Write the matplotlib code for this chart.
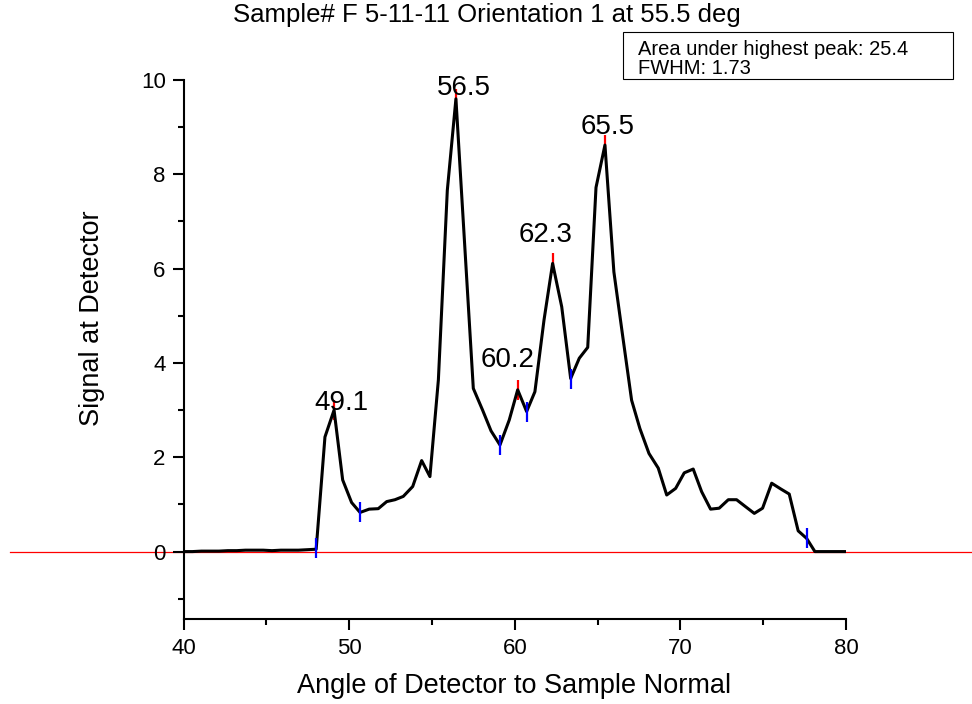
import matplotlib
matplotlib.use("Agg")
import matplotlib.pyplot as plt
from matplotlib.patches import Rectangle

plt.rcParams['font.family'] = ['Liberation Sans', 'DejaVu Sans']

# measured detector signal
angle = [40.0, 40.53, 41.07, 41.6, 42.13, 42.67, 43.2, 43.73, 44.27, 44.8,
         45.33, 45.87, 46.4, 46.93, 47.47, 48.0, 48.53, 49.08, 49.6, 50.14,
         50.65, 51.2, 51.75, 52.26, 52.76, 53.26, 53.83, 54.37, 54.87, 55.38,
         55.92, 56.44, 56.97, 57.49, 58.05, 58.56, 59.1, 59.66, 60.17, 60.71,
         61.21, 61.76, 62.28, 62.83, 63.37, 63.89, 64.4, 64.9, 65.44, 65.98,
         66.5, 67.05, 67.55, 68.1, 68.66, 69.17, 69.71, 70.23, 70.77, 71.28,
         71.82, 72.34, 72.89, 73.39, 73.94, 74.46, 74.96, 75.51, 76.05, 76.57,
         77.11, 77.62, 78.12, 78.65, 79.18, 79.7, 80.3]
signal = [0.0, 0.0, 0.01, 0.01, 0.01, 0.02, 0.02, 0.03, 0.03, 0.03,
          0.02, 0.03, 0.03, 0.03, 0.04, 0.05, 2.43, 3.0, 1.52, 1.04,
          0.83, 0.90, 0.91, 1.06, 1.10, 1.17, 1.38, 1.93, 1.59, 3.64,
          7.66, 9.6, 6.5, 3.46, 3.0, 2.56, 2.26, 2.79, 3.43, 2.97,
          3.39, 4.91, 6.11, 5.19, 3.67, 4.10, 4.33, 7.72, 8.62, 5.93,
          4.6, 3.21, 2.61, 2.08, 1.77, 1.20, 1.34, 1.67, 1.75, 1.27,
          0.90, 0.92, 1.10, 1.10, 0.95, 0.81, 0.92, 1.45, 1.33, 1.22,
          0.44, 0.28, 0.0, 0.0, 0.0, 0.0, 0.0]

# peaks (red) and valleys (blue)
peak_x = [49.08, 56.44, 60.17, 62.28, 65.44]
peak_y = [3.0, 9.6, 3.43, 6.11, 8.62]
peak_labels = ['49.1', '56.5', '60.2', '62.3', '65.5']
label_x = [49.53, 56.93, 59.58, 61.85, 65.62]
label_y = [3.0, 9.69, 3.91, 6.57, 8.85]
valley_x = [48.0, 50.65, 59.1, 60.71, 63.37, 77.62]
valley_y = [0.07, 0.83, 2.26, 2.97, 3.67, 0.28]

title = "Sample# F 5-11-11 Orientation 1 at 55.5 deg"
info_lines = ["Area under highest peak: 25.4", "FWHM: 1.73"]

fig = plt.figure(figsize=(9.72, 7.04), dpi=100)
ax = fig.add_axes([0.189, 0.1207, 0.6814, 0.7657])

ax.plot(peak_x, peak_y, ls='none', marker='|', ms=14, mew=1.6, color='red', zorder=2)
ax.plot(valley_x, valley_y, ls='none', marker='|', ms=14, mew=1.6, color='blue', zorder=4)
ax.plot(angle, signal, color='black', lw=2.2, zorder=3)
ax.axhline(0, xmin=-0.262, xmax=1.2, color='red', lw=0.9, clip_on=False, zorder=1)

for lx, ly, txt in zip(label_x, label_y, peak_labels):
    ax.text(lx, ly, txt, ha='center', va='baseline', fontsize=20)

ax.set_xlim(40, 80)
ax.set_ylim(-1.43, 10)
ax.set_xticks([40, 50, 60, 70, 80])
ax.set_xticks([45, 55, 65, 75], minor=True)
ax.set_yticks([0, 2, 4, 6, 8, 10])
ax.set_yticks([-1, 1, 3, 5, 7, 9], minor=True)
for s in ['top', 'right']:
    ax.spines[s].set_visible(False)
for s in ['left', 'bottom']:
    ax.spines[s].set_linewidth(1.5)
ax.tick_params(which='major', direction='out', length=8, width=1.5, labelsize=16)
ax.tick_params(which='minor', direction='out', length=4, width=1.5)
ax.tick_params(axis='x', pad=6)
ax.tick_params(axis='y', pad=5)

fig.text(0.501, 0.979, title, ha='center', va='center', fontsize=18.5)
fig.text(0.529, 0.025, "Angle of Detector to Sample Normal", ha='center', va='center', fontsize=19.5)
fig.text(0.095, 0.548, "Signal at Detector", ha='center', va='center', rotation=90, fontsize=19.5)

fig.patches.append(Rectangle((623 / 972, 1 - 79.3 / 704), 330 / 972, 47.6 / 704,
                             transform=fig.transFigure, fill=False, lw=0.8, ec='black'))
fig.text(638 / 972, 1 - 55 / 704, info_lines[0], ha='left', va='baseline', fontsize=14.5)
fig.text(638 / 972, 1 - 74 / 704, info_lines[1], ha='left', va='baseline', fontsize=14.5)

plt.savefig('out.png', dpi=100)
